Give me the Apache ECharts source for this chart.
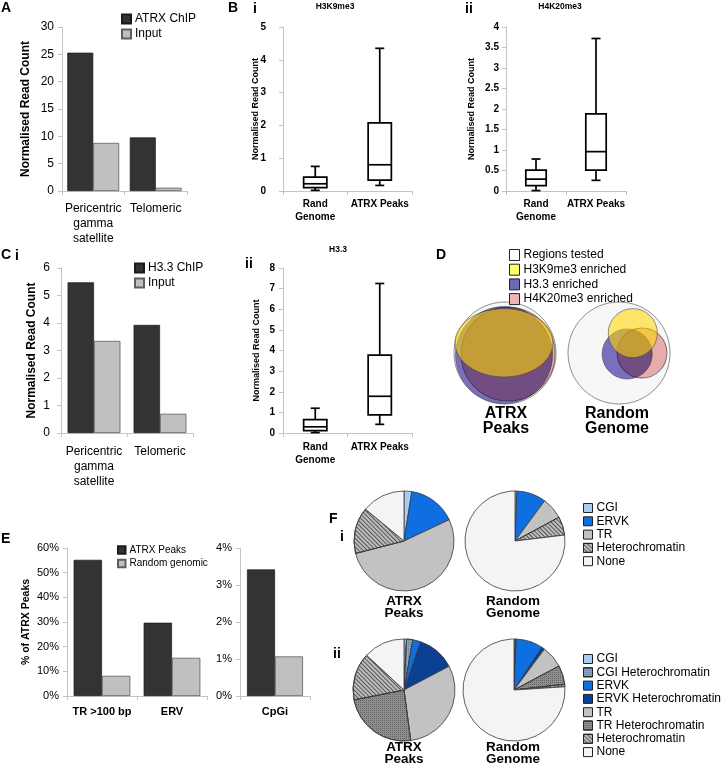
<!DOCTYPE html>
<html><head><meta charset="utf-8">
<script src="https://cdn.jsdelivr.net/npm/echarts@6/dist/echarts.min.js"></script>
<style>html,body{margin:0;padding:0;background:#fff}#c{width:723px;height:768px}</style>
</head><body><div id="c"></div>
<script>
// ---------- DATA ----------
const aCategories = ['Pericentric\ngamma\nsatellite', 'Telomeric'];
const aChip = [25.3, 9.8];
const aInput = [8.8, 0.6];

const bCategories = ['Rand\nGenome', 'ATRX Peaks'];
// [min, Q1, median, Q3, max]
const bH3K9me3 = [[0.02, 0.1, 0.22, 0.42, 0.75], [0.17, 0.33, 0.8, 2.08, 4.35]];
const bH4K20me3 = [[0.01, 0.13, 0.29, 0.51, 0.78], [0.26, 0.51, 0.96, 1.88, 3.72]];

const cCategories = ['Pericentric\ngamma\nsatellite', 'Telomeric'];
const cChip = [5.48, 3.93];
const cInput = [3.35, 0.7];
const cH33 = [[0.02, 0.12, 0.3, 0.65, 1.2], [0.42, 0.88, 1.78, 3.78, 7.25]];

const dSets = ['Regions tested', 'H3K9me3 enriched', 'H3.3 enriched', 'H4K20me3 enriched'];
// venn shapes [cx, cy, rx, ry] in units of the outer circle radius; first ATRX Peaks, then Random Genome
const vennRegions = [[0, 0, 1, 1], [2.235, 0, 1, 1]];
const vennH3K9me3 = [[-0.02, 0.2, 0.96, 0.67], [2.505, 0.39, 0.48, 0.48]];
const vennH33 = [[-0.02, -0.04, 0.95, 0.95], [2.395, -0.02, 0.49, 0.49]];
const vennH4K20me3 = [[0.06, -0.02, 0.92, 0.92], [2.685, 0, 0.49, 0.49]];

const eCategories = ['TR >100 bp', 'ERV'];
const eAtrx = [0.552, 0.297];
const eRandom = [0.082, 0.155];
const eCpgCategories = ['CpGi'];
const eCpgAtrx = [0.0342];
const eCpgRandom = [0.0107];

const fiNames = ['CGI', 'ERVK', 'TR', 'Heterochromatin', 'None'];
const fiAtrx = [2.5, 15.5, 53, 15, 14];
const fiRandom = [0.6, 9.5, 7, 6, 76.9];
const fiiNames = ['CGI', 'CGI Heterochromatin', 'ERVK', 'ERVK Heterochromatin', 'TR', 'TR Heterochromatin', 'Heterochromatin', 'None'];
const fiiAtrx = [0.8, 2, 2.5, 12, 30.6, 24, 15, 13.1];
const fiiRandom = [0.4, 0.3, 8.5, 1, 7, 6, 0.8, 76];

// ---------- STYLE ----------
const FONT = 'Liberation Sans';
const AX = '#c4c4c4';
const chart = echarts.init(document.getElementById('c'), null, {renderer: 'canvas'});

function catAxis(gi, data, lab, tick) {
  return {
    type: 'category', gridIndex: gi, data: data,
    axisLine: {show: true, lineStyle: {color: AX}},
    axisTick: Object.assign({show: true, length: 4, lineStyle: {color: AX}}, tick || {}),
    axisLabel: Object.assign({interval: 0, color: '#000', fontSize: 12, lineHeight: 15, margin: 10}, lab || {}),
    splitLine: {show: false}
  };
}
function valAxis(gi, max, interval, name, nameGap, nameSize, lab) {
  return {
    type: 'value', gridIndex: gi, min: 0, max: max, interval: interval,
    name: name, nameLocation: 'middle', nameGap: nameGap, nameMoveOverlap: false,
    nameTextStyle: {fontSize: nameSize, fontWeight: 'bold', color: '#000', fontFamily: FONT},
    axisLine: {show: true, lineStyle: {color: AX}},
    axisTick: {show: true, length: 4, lineStyle: {color: AX}},
    axisLabel: Object.assign({color: '#000', fontSize: 12, margin: 8}, lab || {}),
    splitLine: {show: false}
  };
}
const darkBar = {color: '#333333', borderColor: '#1a1a1a', borderWidth: 0.7};
const lightBar = {color: '#c0c0c0', borderColor: '#5e5e5e', borderWidth: 0.8};
function bar(name, gi, data, style, gap) {
  return {type: 'bar', name: name, xAxisIndex: gi, yAxisIndex: gi, data: data, barGap: '0%',
    barCategoryGap: gap, itemStyle: style, silent: true, emphasis: {disabled: true}};
}
function boxSeries(gi, data, frac) {
  return {
    type: 'custom', xAxisIndex: gi, yAxisIndex: gi, silent: true,
    data: data.map(function (d, i) { return [i].concat(d); }),
    encode: {x: 0, y: [1, 2, 3, 4, 5]},
    renderItem: function (params, api) {
      const i = api.value(0);
      const p = [1, 2, 3, 4, 5].map(function (k) { return api.coord([i, api.value(k)]); });
      const cx = p[0][0];
      const bw = api.size([1, 0])[0] * frac;
      const cap = 4.5;
      const st = {stroke: '#000', lineWidth: 1.7, fill: null};
      return {type: 'group', children: [
        {type: 'line', shape: {x1: cx, y1: p[0][1], x2: cx, y2: p[1][1]}, style: st},
        {type: 'line', shape: {x1: cx, y1: p[3][1], x2: cx, y2: p[4][1]}, style: st},
        {type: 'line', shape: {x1: cx - cap, y1: p[0][1], x2: cx + cap, y2: p[0][1]}, style: st},
        {type: 'line', shape: {x1: cx - cap, y1: p[4][1], x2: cx + cap, y2: p[4][1]}, style: st},
        {type: 'rect', shape: {x: cx - bw / 2, y: p[3][1], width: bw, height: p[1][1] - p[3][1]},
          style: {fill: '#fff', stroke: '#000', lineWidth: 1.7}},
        {type: 'line', shape: {x1: cx - bw / 2, y1: p[2][1], x2: cx + bw / 2, y2: p[2][1]}, style: st}
      ]};
    }
  };
}
function vennSeries(name, data, fill, blend, legendColor) {
  return {
    type: 'custom', name: name, xAxisIndex: 7, yAxisIndex: 7, silent: true, data: data,
    encode: {x: 0, y: 1}, blendMode: blend,
    itemStyle: {color: legendColor, borderColor: '#000', borderWidth: 1},
    renderItem: function (params, api) {
      const c = api.coord([api.value(0), api.value(1)]);
      const rx = api.size([api.value(2), 0])[0];
      const ry = api.size([0, api.value(3)])[1];
      return {type: 'ellipse', shape: {cx: c[0], cy: c[1], rx: rx, ry: ry},
        style: {fill: fill, stroke: 'rgba(70,70,70,0.75)', lineWidth: 0.8}};
    }
  };
}
const hatch = {symbol: 'rect', symbolSize: 1, color: 'rgba(30,30,30,0.65)', dashArrayX: [1, 0], dashArrayY: [1, 1.8], rotation: Math.PI / 4};
const dots = {symbol: 'rect', symbolSize: 1, color: 'rgba(0,0,0,0.28)', dashArrayX: [1, 1], dashArrayY: [1, 1]};
const fColors = {
  'CGI': '#a8cdf2', 'CGI Heterochromatin': '#8aa6c8', 'ERVK': '#0f6ee0', 'ERVK Heterochromatin': '#0b3f92',
  'TR': '#c2c2c2', 'TR Heterochromatin': '#8e8e8e', 'Heterochromatin': '#bdbdbd', 'None': '#f4f4f4'
};
const fDecals = {'CGI Heterochromatin': dots, 'TR Heterochromatin': dots, 'Heterochromatin': hatch};
function pieData(names, vals) {
  return names.map(function (n, i) {
    const st = {color: fColors[n]};
    if (fDecals[n]) st.decal = fDecals[n];
    return {name: n, value: vals[i], itemStyle: st};
  });
}
function pie(center, r, names, vals) {
  return {type: 'pie', center: center, radius: r, startAngle: 90, clockwise: true, silent: true,
    data: pieData(names, vals), label: {show: false}, labelLine: {show: false}, emphasis: {disabled: true},
    itemStyle: {borderColor: '#3a3a3a', borderWidth: 0.8}};
}
function txt(x, y, text, size, weight, align, lh) {
  return {type: 'text', x: x, y: y, silent: true,
    style: {text: text, fontSize: size, fontWeight: weight || 'normal', fontFamily: FONT, fill: '#000',
      align: align || 'left', verticalAlign: 'top', lineHeight: lh || size}};
}
function legend(left, top, data, w, h, gap, size) {
  return {orient: 'vertical', left: left, top: top, data: data, icon: 'rect', itemWidth: w, itemHeight: h,
    itemGap: gap, selectedMode: false, padding: 0,
    textStyle: {fontSize: size, lineHeight: size, color: '#000', fontFamily: FONT, padding: [0, 0, 0, -1]}};
}
const pctFmt = function (v) { return Math.round(v * 100) + '%'; };
const boldLab = {fontSize: 10, fontWeight: 'bold', lineHeight: 13};

const option = {
  animation: false,
  textStyle: {fontFamily: FONT},
  grid: [
    {left: 62, top: 27, width: 125, height: 164},
    {left: 283, top: 27, width: 129, height: 164},
    {left: 506, top: 27, width: 120, height: 164},
    {left: 61, top: 268, width: 132, height: 165},
    {left: 283, top: 268, width: 129, height: 165},
    {left: 67, top: 548, width: 140, height: 148},
    {left: 240, top: 548, width: 70, height: 148},
    {left: 443.8, top: 291.8, width: 237.2, height: 122.4}
  ],
  xAxis: [
    catAxis(0, aCategories),
    catAxis(1, bCategories, Object.assign({margin: 7}, boldLab)),
    catAxis(2, bCategories, Object.assign({margin: 7}, boldLab)),
    catAxis(3, cCategories, {margin: 11}),
    catAxis(4, bCategories, Object.assign({margin: 8}, boldLab)),
    catAxis(5, eCategories, {fontSize: 11, fontWeight: 'bold', lineHeight: 13, margin: 9}),
    catAxis(6, eCpgCategories, {fontSize: 11, fontWeight: 'bold', lineHeight: 13, margin: 9}),
    {type: 'value', gridIndex: 7, min: -1.2, max: 3.45, show: false}
  ],
  yAxis: [
    valAxis(0, 30, 5, 'Normalised Read Count', 30, 12, {margin: 8}),
    valAxis(1, 5, 1, 'Normalised Read Count', 22.5, 9, {fontSize: 10, fontWeight: 'bold', margin: 17}),
    valAxis(2, 4, 0.5, 'Normalised Read Count', 30, 9, {fontSize: 10, fontWeight: 'bold', margin: 7}),
    valAxis(3, 6, 1, 'Normalised Read Count', 23, 12, {margin: 11}),
    valAxis(4, 8, 1, 'Normalised Read Count', 22, 9, {fontSize: 10, fontWeight: 'bold', margin: 8}),
    valAxis(5, 0.6, 0.1, '% of ATRX Peaks', 35, 10.5, {fontSize: 11, margin: 8, formatter: pctFmt}),
    valAxis(6, 0.04, 0.01, '', 0, 10, {fontSize: 11, margin: 8, formatter: pctFmt}),
    {type: 'value', gridIndex: 7, min: -1.2, max: 1.2, show: false}
  ],
  legend: [
    legend(121, 13, ['ATRX ChIP', 'Input'], 9, 9, 3, 12),
    legend(134, 262, ['H3.3 ChIP', 'Input'], 9, 9, 3, 12),
    legend(117, 545, ['ATRX Peaks', 'Random genomic'], 7.5, 7.5, 3.5, 10),
    Object.assign(legend(509, 249, dSets, 10, 11, 2.7, 12), {itemStyle: {borderColor: '#222', borderWidth: 1}}),
    Object.assign(legend(583, 502, fiNames, 9, 9, 1.3, 12), {itemStyle: {borderColor: '#222', borderWidth: 1}}),
    Object.assign(legend(583, 653, fiiNames, 9, 9, 1.3, 12), {itemStyle: {borderColor: '#222', borderWidth: 1}})
  ],
  series: [
    bar('ATRX ChIP', 0, aChip, darkBar, '17%'),
    bar('Input', 0, aInput, lightBar, '17%'),
    boxSeries(1, bH3K9me3, 0.36),
    boxSeries(2, bH4K20me3, 0.34),
    bar('H3.3 ChIP', 3, cChip, darkBar, '20%'),
    bar('Input', 3, cInput, lightBar, '20%'),
    boxSeries(4, cH33, 0.36),
    bar('ATRX Peaks', 5, eAtrx, darkBar, '19%'),
    bar('Random genomic', 5, eRandom, lightBar, '19%'),
    bar('ATRX Peaks', 6, eCpgAtrx, darkBar, '20%'),
    bar('Random genomic', 6, eCpgRandom, lightBar, '20%'),
    vennSeries(dSets[0], vennRegions, '#f7f7f7', 'source-over', '#ffffff'),
    vennSeries(dSets[2], vennH33, 'rgba(105,92,180,0.88)', 'source-over', '#6b6bb5'),
    vennSeries(dSets[3], vennH4K20me3, '#efb1b1', 'multiply', '#f0b4b4'),
    vennSeries(dSets[1], vennH3K9me3, 'rgba(255,215,0,0.58)', 'source-over', '#ffff66'),
    pie([404, 541], 50, fiNames, fiAtrx),
    pie([515, 541], 50, fiNames, fiRandom),
    pie([404, 690], 51, fiiNames, fiiAtrx),
    pie([514, 690], 51, fiiNames, fiiRandom)
  ],
  graphic: [
    txt(1, 1, 'A', 14, 'bold'),
    txt(228, 1, 'B', 14, 'bold'),
    txt(253, 2, 'i', 14, 'bold'),
    txt(465, 2, 'ii', 14, 'bold'),
    txt(335, 2, 'H3K9me3', 8.5, 'bold', 'center'),
    txt(560, 2, 'H4K20me3', 8.5, 'bold', 'center'),
    txt(1, 248, 'C', 14, 'bold'),
    txt(15, 249, 'i', 14, 'bold'),
    txt(245, 257, 'ii', 14, 'bold'),
    txt(338, 245, 'H3.3', 8.5, 'bold', 'center'),
    txt(436, 248, 'D', 14, 'bold'),
    txt(1, 532, 'E', 14, 'bold'),
    txt(329, 512, 'F', 14, 'bold'),
    txt(340, 530, 'i', 14, 'bold'),
    txt(333, 647, 'ii', 14, 'bold'),
    txt(506, 406, 'ATRX\nPeaks', 16, 'bold', 'center', 15),
    txt(617, 406, 'Random\nGenome', 16, 'bold', 'center', 15),
    txt(404, 595, 'ATRX\nPeaks', 13.5, 'bold', 'center', 12),
    txt(513, 595, 'Random\nGenome', 13.5, 'bold', 'center', 12),
    txt(404, 741, 'ATRX\nPeaks', 13.5, 'bold', 'center', 12),
    txt(513, 741, 'Random\nGenome', 13.5, 'bold', 'center', 12)
  ]
};
chart.setOption(option);
</script>
</body></html>
